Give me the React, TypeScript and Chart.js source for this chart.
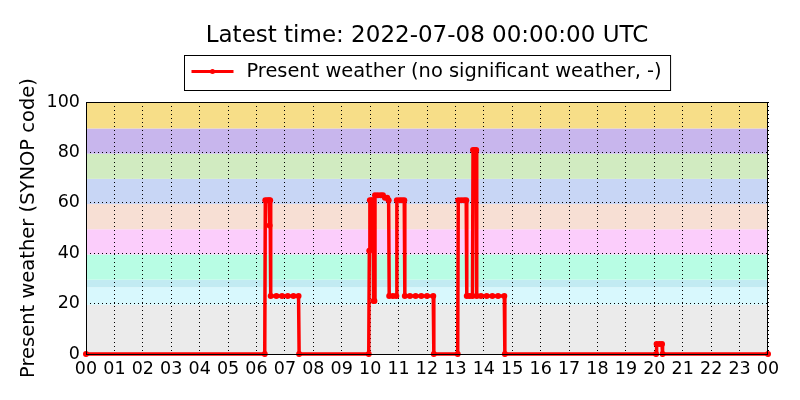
import { useEffect, useRef } from "react";
import Chart, { Plugin } from "chart.js/auto";

// hours after 2022-07-07 00:00 UTC
const times = [
  0, 6.29, 6.31, 6.38, 6.44, 6.46, 6.48, 6.5, 6.7, 6.9, 7.1, 7.3, 7.48, 7.5,
  9.95, 9.97, 9.99, 10.05, 10.1, 10.12, 10.15, 10.17, 10.27, 10.37, 10.45, 10.52, 10.6, 10.65, 10.67,
  10.8, 10.92, 10.94, 11.04, 11.12, 11.2, 11.22, 11.4, 11.6, 11.8, 12.0, 12.22, 12.24,
  13.08, 13.1, 13.2, 13.3, 13.38, 13.4, 13.5, 13.6, 13.62, 13.68, 13.73, 13.75, 13.9, 14.1, 14.3, 14.5, 14.72, 14.74,
  20.06, 20.08, 20.18, 20.27, 20.29, 24,
];
const presentWeather = [
  0, 0, 61, 61, 61, 51, 61, 23, 23, 23, 23, 23, 23, 0,
  0, 41, 61, 61, 61, 21, 21, 63, 63, 63, 63, 62, 62, 61, 23,
  23, 23, 61, 61, 61, 61, 23, 23, 23, 23, 23, 23, 0,
  0, 61, 61, 61, 61, 23, 23, 23, 81, 81, 81, 23, 23, 23, 23, 23, 23, 0,
  0, 4, 4, 4, 0, 0,
];
const yTicks = [0, 20, 40, 60, 80, 100];
const hourTicks = Array.from({ length: 25 }, (_, i) => i);

// SYNOP code groups shaded behind the plot
const bandEdges = [0, 19.5, 26.5, 29.5, 39.5, 49.5, 59.5, 69.5, 79.5, 89.5, 100];
const bandColors = [
  "#ebebeb", "#d8f8fd", "#c2ebf2", "#b8fde4", "#fbcdfb",
  "#f7dfd4", "#c8d6f5", "#d1ebc1", "#c8b6ed", "#f7de88",
];

const titleText = "Latest time: 2022-07-08 00:00:00 UTC";
const seriesLabel = "Present weather (no significant weather, -)";
const FONT = "DejaVu Sans";

const decorations: Plugin<"line"> = {
  id: "decorations",
  beforeDraw(chart) {
    const { ctx, chartArea: a, scales } = chart;
    const y = scales.y;
    ctx.save();
    ctx.fillStyle = "#ffffff";
    ctx.fillRect(0, 0, chart.width, chart.height);
    for (let i = 0; i < bandColors.length; i++) {
      const top = y.getPixelForValue(bandEdges[i + 1]);
      const bottom = y.getPixelForValue(bandEdges[i]);
      ctx.fillStyle = bandColors[i];
      ctx.fillRect(a.left, top, a.right - a.left, bottom - top);
    }
    ctx.restore();
  },
  afterDraw(chart) {
    const { ctx, chartArea: a } = chart;
    const cx = (a.left + a.right) / 2;
    ctx.save();
    // frame
    ctx.strokeStyle = "#000";
    ctx.lineWidth = 1;
    ctx.strokeRect(a.left + 0.5, a.top + 0.5, a.right - a.left - 1, a.bottom - a.top);

    // title
    ctx.fillStyle = "#000";
    ctx.font = `23px "${FONT}"`;
    ctx.textAlign = "center";
    ctx.textBaseline = "alphabetic";
    ctx.fillText(titleText, cx, 42);

    // legend
    ctx.font = `19.4px "${FONT}"`;
    const textW = ctx.measureText(seriesLabel).width;
    const boxW = 62 + textW + 9;
    const left = Math.round(cx - boxW / 2) + 0.5;
    ctx.fillStyle = "#fff";
    ctx.fillRect(left, 55.5, boxW, 35);
    ctx.strokeStyle = "#000";
    ctx.strokeRect(left, 55.5, boxW, 35);
    ctx.strokeStyle = "#ff0000";
    ctx.lineWidth = 3;
    ctx.beginPath();
    ctx.moveTo(left + 7, 71.5);
    ctx.lineTo(left + 49, 71.5);
    ctx.stroke();
    ctx.fillStyle = "#ff0000";
    ctx.beginPath();
    ctx.arc(left + 28, 71.5, 2.5, 0, Math.PI * 2);
    ctx.fill();
    ctx.fillStyle = "#000";
    ctx.textAlign = "left";
    ctx.textBaseline = "middle";
    ctx.fillText(seriesLabel, left + 62, 72);
    ctx.restore();
  },
};

export default function App() {
  const canvasRef = useRef<HTMLCanvasElement | null>(null);

  useEffect(() => {
    if (!canvasRef.current) return;
    const ctx = canvasRef.current.getContext("2d");
    if (!ctx) return;

    const chart = new Chart(ctx, {
      type: "line",
      data: {
        datasets: [
          {
            label: seriesLabel,
            data: times.map((t, i) => ({ x: t, y: presentWeather[i] })),
            borderColor: "#ff0000",
            backgroundColor: "#ff0000",
            borderWidth: 3.5,
            pointRadius: 3,
            pointBorderWidth: 0,
            pointBackgroundColor: "#ff0000",
            tension: 0,
            clip: false,
          },
        ],
      },
      options: {
        animation: false,
        responsive: false,
        devicePixelRatio: 1,
        layout: { padding: { top: 102, right: 32, left: 0, bottom: 0 } },
        plugins: {
          legend: { display: false },
          title: { display: false },
          tooltip: { enabled: false },
        },
        scales: {
          x: {
            type: "linear",
            min: 0,
            max: 24,
            afterBuildTicks: (s) => {
              s.ticks = hourTicks.map((v) => ({ value: v }));
            },
            afterFit: (s) => {
              s.height = 46;
            },
            ticks: {
              autoSkip: false,
              maxRotation: 0,
              padding: 5,
              color: "#000",
              font: { family: FONT, size: 17.5 },
              callback: (v) => String(Number(v) % 24).padStart(2, "0"),
            },
            grid: { color: "#000", lineWidth: 1, drawTicks: false },
            border: { display: false, dash: [1, 3] },
          },
          y: {
            min: 0,
            max: 100,
            afterBuildTicks: (s) => {
              s.ticks = yTicks.map((v) => ({ value: v }));
            },
            afterFit: (s) => {
              s.width = 86;
            },
            ticks: {
              padding: 6,
              color: "#000",
              font: { family: FONT, size: 17.5 },
            },
            grid: { color: "#000", lineWidth: 1, drawTicks: false },
            border: { display: false, dash: [1, 3] },
            title: {
              display: true,
              text: "Present weather (SYNOP code)",
              color: "#000",
              font: { family: FONT, size: 19.5 },
              padding: { top: 17, bottom: 0 },
            },
          },
        },
      },
      plugins: [decorations],
    });

    return () => {
      chart.destroy();
    };
  }, []);

  return (
    <div style={{ position: "fixed", left: 0, top: 0, width: 800, height: 400 }}>
      <canvas ref={canvasRef} width={800} height={400}></canvas>
    </div>
  );
}
